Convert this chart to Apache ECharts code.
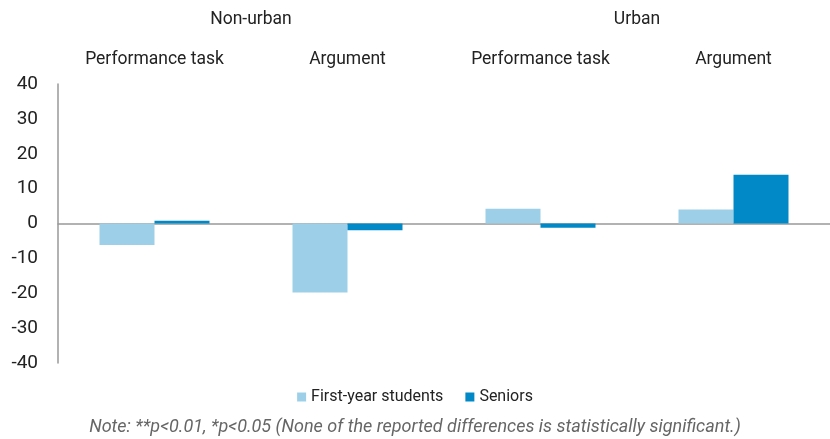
<!DOCTYPE html>
<html>
<head>
<meta charset="utf-8">
<script src="https://cdn.jsdelivr.net/npm/echarts@6/dist/echarts.min.js"></script>
<style>
  html, body { margin: 0; padding: 0; background: #fff; }
  #chart { width: 830px; height: 439px; }
</style>
</head>
<body>
<div id="chart"></div>
<script>
'use strict';

const groups = ['Non-urban', 'Urban'];
const categories = ['Performance task', 'Argument', 'Performance task', 'Argument'];
const firstYear = [-6.2, -19.8, 4.2, 4.0];
const seniors = [0.8, -1.9, -1.2, 14.0];
const yTicks = { min: -40, max: 40, interval: 10 };

const FONT = '"Roboto", "Liberation Sans", sans-serif';
const LIGHT = '#9dd0e8';
const DARK = '#0089c6';

const chart = echarts.init(document.getElementById('chart'));

chart.setOption({
  animation: false,
  textStyle: { fontFamily: FONT },
  grid: { left: 58, right: 0, top: 84, bottom: 76, outerBoundsMode: 'none' },
  legend: {
    bottom: 29,
    left: 'center',
    itemWidth: 9,
    itemHeight: 9,
    itemGap: 22,
    icon: 'rect',
    textStyle: { fontFamily: FONT, fontSize: 16, color: '#222' },
    data: ['First-year students', 'Seniors']
  },
  graphic: [{
    type: 'text',
    left: 'center',
    top: 418,
    style: {
      text: 'Note: **p<0.01, *p<0.05 (None of the reported differences is statistically significant.)',
      font: 'italic 18px ' + FONT,
      fill: '#666'
    }
  }],
  xAxis: [{
    type: 'category',
    data: categories,
    axisLine: { onZero: true, lineStyle: { color: '#999', width: 1.5 } },
    axisTick: { show: false },
    axisLabel: { show: false }
  }, {
    type: 'category',
    position: 'top',
    data: categories,
    axisLine: { show: false },
    axisTick: { show: false },
    axisLabel: { margin: 15, fontSize: 17.5, color: '#222', fontFamily: FONT }
  }, {
    type: 'category',
    position: 'top',
    offset: 40,
    data: groups,
    axisLine: { show: false },
    axisTick: { show: false },
    axisLabel: { margin: 15, fontSize: 17.5, color: '#222', fontFamily: FONT }
  }],
  yAxis: {
    type: 'value',
    min: yTicks.min,
    max: yTicks.max,
    interval: yTicks.interval,
    axisLine: { show: true, lineStyle: { color: '#999', width: 1.5 } },
    axisTick: { show: false },
    splitLine: { show: false },
    axisLabel: { fontSize: 19, color: '#222', margin: 20, fontFamily: FONT }
  },
  series: [{
    name: 'First-year students',
    type: 'bar',
    data: firstYear,
    barGap: '0%',
    barCategoryGap: '43%',
    itemStyle: { color: LIGHT }
  }, {
    name: 'Seniors',
    type: 'bar',
    data: seniors,
    itemStyle: { color: DARK }
  }]
});
</script>
</body>
</html>
